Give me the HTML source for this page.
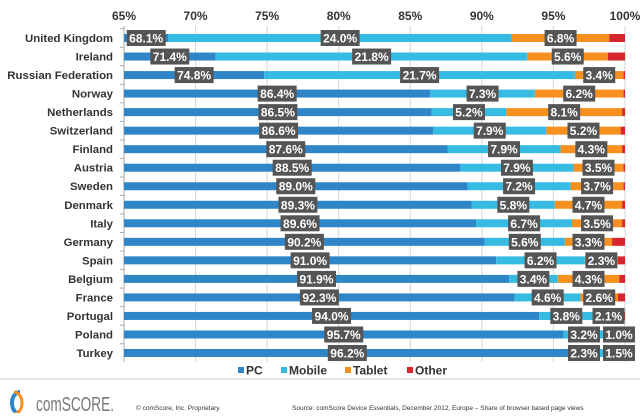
<!DOCTYPE html>
<html><head><meta charset="utf-8"><style>
body{margin:0;background:#fff;width:640px;height:413px;overflow:hidden;font-family:"Liberation Sans",sans-serif}
</style></head><body>
<svg id="s" width="640" height="413" xmlns="http://www.w3.org/2000/svg" font-family="Liberation Sans, sans-serif"></svg>
<script>
const d=[["United Kingdom",68.1,24.0,6.8],["Ireland",71.4,21.8,5.6],["Russian Federation",74.8,21.7,3.4],["Norway",86.4,7.3,6.2],["Netherlands",86.5,5.2,8.1],["Switzerland",86.6,7.9,5.2],["Finland",87.6,7.9,4.3],["Austria",88.5,7.9,3.5],["Sweden",89.0,7.2,3.7],["Denmark",89.3,5.8,4.7],["Italy",89.6,6.7,3.5],["Germany",90.2,5.6,3.3],["Spain",91.0,6.2,2.3],["Belgium",91.9,3.4,4.3],["France",92.3,4.6,2.6],["Portugal",94.0,3.8,2.1],["Poland",95.7,3.2,1.0],["Turkey",96.2,2.3,1.5]];
const X=v=>124+(v-65)*14.314;
let h='';
for(let i=0;i<=7;i++){const x=X(65+5*i);h+=`<line x1="${x}" y1="26" x2="${x}" y2="362" stroke="#d6d6d6" stroke-width="1"/><text x="${x}" y="20" text-anchor="middle" font-size="12" font-weight="bold" fill="#333">${65+5*i}%</text>`;}
h+=`<line x1="124" y1="26" x2="124" y2="362" stroke="#aaa"/>`;
const C=["#2e86c8","#36bce3","#f7901e","#d7262b"];
function lab(cx,cy,t){const w=t.length*7+4;return `<rect x="${cx-w/2}" y="${cy-8}" width="${w}" height="16" fill="#555"/><text x="${cx}" y="${cy+4.5}" text-anchor="middle" font-size="12" font-weight="bold" fill="#fff">${t}</text>`;}
d.forEach((r,i)=>{const y=38+i*18.53;
h+=`<line x1="120" y1="${y-9.3}" x2="124" y2="${y-9.3}" stroke="#aaa"/>`;
h+=`<text x="113" y="${y+4}" text-anchor="end" font-size="11.4" font-weight="bold" fill="#333">${r[0]}</text>`;
const segs=[[0,r[1]],[r[1],r[1]+r[2]],[r[1]+r[2],r[1]+r[2]+r[3]],[r[1]+r[2]+r[3],100]];
segs.forEach((g,k)=>{const x0=X(Math.max(65,g[0])),x1=X(g[1]);if(x1>x0)h+=`<rect x="${x0}" y="${y-4}" width="${x1-x0}" height="8" fill="${C[k]}"/>`;});
let m=[(X(65)+X(r[1]))/2,(X(r[1])+X(r[1]+r[2]))/2,(X(r[1]+r[2])+X(r[1]+r[2]+r[3]))/2];
if(i>=16){m[1]=584;m[2]=619;}
h+=lab(m[0],y,r[1].toFixed(1)+'%')+lab(m[1],y,r[2].toFixed(1)+'%')+lab(m[2],y,r[3].toFixed(1)+'%');
});
const L=[["PC",246],["Mobile",289],["Tablet",353],["Other",415]];
L.forEach((l,k)=>{h+=`<rect x="${l[1]-8}" y="367" width="6" height="6" fill="${C[k]}"/><text x="${l[1]}" y="374.5" font-size="12" font-weight="bold" fill="#333">${l[0]}</text>`;});
h+=`<rect x="0" y="378" width="640" height="2" fill="#e4e4e4"/>`;
h+=`<path d="M20 392 A8 11 0 1 0 20 414" stroke="#2e86c8" stroke-width="4" fill="none"/><path d="M14 392 A8 11 0 0 1 14 414" stroke="#f7901e" stroke-width="3" fill="none"/>`;
h+=`<text x="36" y="411" font-size="20" fill="#777" textLength="78" lengthAdjust="spacingAndGlyphs">comSCORE.</text>`;
h+=`<text x="136" y="410" font-size="6.5" fill="#333">© comScore, Inc.    Proprietary.</text>`;
h+=`<text x="292" y="410" font-size="6.5" fill="#333">Source: comScore Device Essentials, December 2012, Europe – Share of browser based page views</text>`;
document.getElementById('s').innerHTML=h;
</script>
</body></html>
